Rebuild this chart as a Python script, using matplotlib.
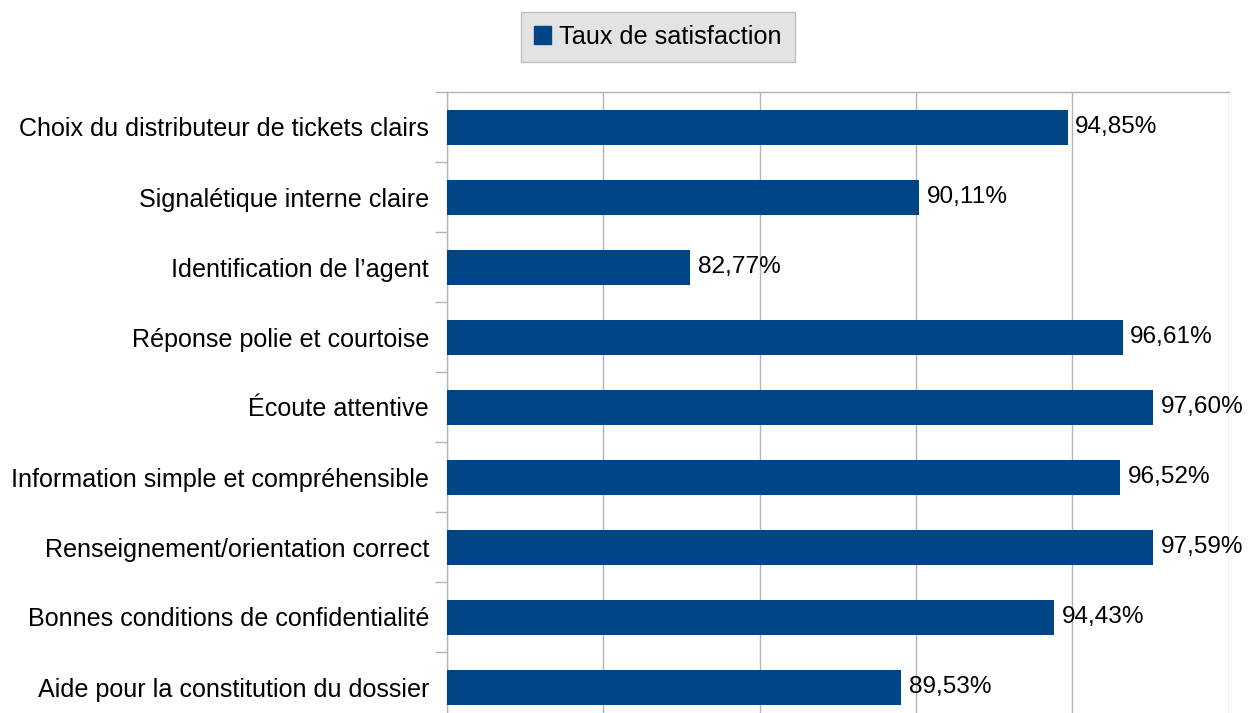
import matplotlib
matplotlib.use("Agg")
import matplotlib.pyplot as plt
from matplotlib.patches import Patch

plt.rcParams['font.family'] = ['Liberation Sans', 'DejaVu Sans']

# données
categories = [
    "Choix du distributeur de tickets clairs",
    "Signalétique interne claire",
    "Identification de l’agent",
    "Réponse polie et courtoise",
    "Écoute attentive",
    "Information simple et compréhensible",
    "Renseignement/orientation correct",
    "Bonnes conditions de confidentialité",
    "Aide pour la constitution du dossier",
]
taux = [94.85, 90.11, 82.77, 96.61, 97.60, 96.52, 97.59, 94.43, 89.53]
serie = "Taux de satisfaction"

bleu = "#004586"
gris = "#b3b3b3"

fig = plt.figure(figsize=(12.48, 7.13), dpi=100)
ax = fig.add_axes([447 / 1248, 1 - 722 / 713, 781.5 / 1248, 630 / 713])

y = list(range(len(categories)))
ax.barh(y, taux, height=0.5, color=bleu, zorder=3)

# étiquettes de valeurs
for yi, v in zip(y, taux):
    ax.text(v + 0.25, yi, f"{v:.2f}%".replace(".", ","), va="center", ha="left",
            fontsize=17.6, color="black", zorder=4)

ax.set_xlim(75, 100)
ax.set_ylim(len(categories) - 0.5, -0.5)
ax.set_xticks([75, 80, 85, 90, 95, 100])
ax.tick_params(axis="x", length=0, labelbottom=False)
ax.grid(axis="x", color=gris, linewidth=1, zorder=0)

ax.set_yticks(y)
ax.set_yticklabels(categories, fontsize=18.1)
ax.set_yticks([i - 0.5 for i in range(len(categories) + 1)], minor=True)
ax.tick_params(axis="y", which="major", length=0, pad=13)
ax.tick_params(axis="y", which="minor", length=8.6, color=gris, width=1)

for s in ["right", "bottom"]:
    ax.spines[s].set_visible(False)
for s in ["left", "top"]:
    ax.spines[s].set_color(gris)
    ax.spines[s].set_linewidth(1)

leg = fig.legend(handles=[Patch(color=bleu, label=serie)], loc="center",
                 bbox_to_anchor=(658 / 1248, 1 - 37 / 713), fontsize=18.2,
                 frameon=True, fancybox=False, facecolor="#dddddd", edgecolor=gris,
                 handlelength=0.65, handleheight=0.75, handletextpad=0.35,
                 borderpad=0.5, borderaxespad=0)
leg.get_frame().set_linewidth(1)

plt.savefig("out.png", dpi=100)
